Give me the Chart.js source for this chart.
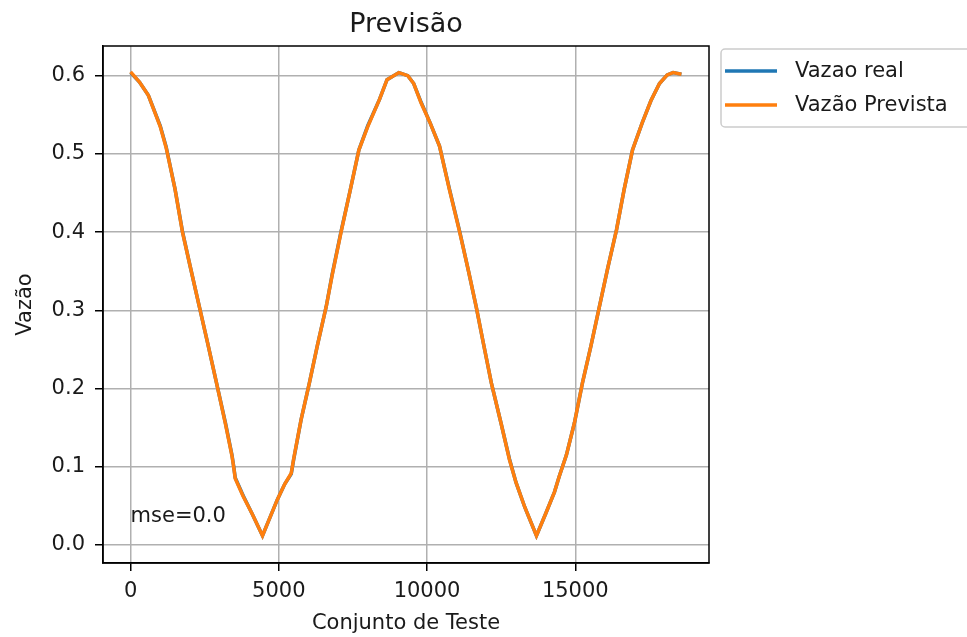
<!DOCTYPE html>
<html>
<head>
<meta charset="utf-8">
<script src="https://cdn.jsdelivr.net/npm/chart.js@4/dist/chart.umd.min.js"></script>
<style>
  body { margin: 0; background: #fff; }
  #wrap { width: 967px; height: 637px; }
</style>
</head>
<body>
<div id="wrap"><canvas id="chart" width="967" height="637"></canvas></div>
<script>
// sample index (Conjunto de Teste)
const xValues = [0, 300, 600, 1000, 1200, 1500, 1750, 2000, 2300, 2600, 2900, 3200, 3420, 3480, 3530,
  3800, 4100, 4450, 4700, 4950, 5200, 5420, 5500, 5750, 6030, 6300, 6600, 6800, 7100, 7400, 7700,
  8000, 8400, 8650, 9050, 9350, 9550, 9800, 10100, 10420, 10750, 11100, 11400, 11660, 11900, 12170,
  12500, 12780, 13000, 13300, 13690, 14000, 14300, 14460, 14700, 14970, 15240, 15530, 15810, 16100,
  16390, 16650, 16930, 17260, 17550, 17840, 18100, 18300, 18580];

// Vazao real
const realValues = [0.604, 0.592, 0.575, 0.536, 0.509, 0.455, 0.401, 0.358, 0.308, 0.258, 0.207, 0.156, 0.115, 0.100, 0.086,
  0.063, 0.040, 0.012, 0.035, 0.058, 0.078, 0.091, 0.109, 0.160, 0.207, 0.255, 0.305, 0.346, 0.401, 0.452, 0.505,
  0.536, 0.570, 0.595, 0.604, 0.600, 0.590, 0.566, 0.540, 0.510, 0.456, 0.401, 0.350, 0.304, 0.258, 0.207,
  0.155, 0.110, 0.080, 0.048, 0.012, 0.040, 0.068, 0.088, 0.115, 0.156, 0.207, 0.255, 0.304, 0.355,
  0.403, 0.455, 0.505, 0.540, 0.568, 0.590, 0.601, 0.604, 0.602];

// Vazão Prevista
const predictedValues = [0.605, 0.592, 0.575, 0.535, 0.508, 0.455, 0.400, 0.358, 0.308, 0.258, 0.207, 0.155, 0.114, 0.099, 0.085,
  0.062, 0.040, 0.012, 0.035, 0.058, 0.078, 0.092, 0.110, 0.160, 0.207, 0.255, 0.305, 0.345, 0.400, 0.452, 0.505,
  0.535, 0.570, 0.595, 0.604, 0.600, 0.590, 0.565, 0.540, 0.510, 0.455, 0.400, 0.350, 0.304, 0.258, 0.207,
  0.155, 0.109, 0.080, 0.048, 0.012, 0.040, 0.068, 0.088, 0.115, 0.156, 0.207, 0.255, 0.304, 0.355,
  0.403, 0.455, 0.505, 0.540, 0.568, 0.590, 0.601, 0.604, 0.602];

const xTickValues = [0, 5000, 10000, 15000];
const yTickValues = [0, 0.1, 0.2, 0.3, 0.4, 0.5, 0.6];
const seriesNames = ['Vazao real', 'Vazão Prevista'];
const seriesColors = ['#1f77b4', '#ff7f0e'];
const mseLabel = 'mse=0.0';
const msePos = [0, 0.03];

const FONT = '"DejaVu Sans", "Liberation Sans", sans-serif';

function toPoints(ys) {
  return xValues.map((x, i) => ({ x: x, y: ys[i] }));
}

// frame, title, mse text and the outside legend
const extras = {
  id: 'extras',
  afterDraw(chart) {
    const { ctx, chartArea: a, scales } = chart;
    ctx.save();
    ctx.strokeStyle = '#000';
    ctx.lineWidth = 1.5;
    ctx.strokeRect(a.left, a.top, a.right - a.left, a.bottom - a.top);

    ctx.fillStyle = '#1a1a1a';
    ctx.font = '21px ' + FONT;
    ctx.textAlign = 'left';
    ctx.textBaseline = 'alphabetic';
    ctx.fillText(mseLabel, scales.x.getPixelForValue(msePos[0]), scales.y.getPixelForValue(msePos[1]));

    ctx.font = '27px ' + FONT;
    ctx.textAlign = 'center';
    ctx.textBaseline = 'middle';
    ctx.fillText('Previsão', (a.left + a.right) / 2, 25);

    // legend box
    const lx = 721, ly = 49;
    ctx.beginPath();
    ctx.roundRect(lx, ly, 300, 78, 4);
    ctx.fillStyle = 'rgba(255,255,255,0.8)';
    ctx.fill();
    ctx.strokeStyle = '#cccccc';
    ctx.lineWidth = 1.5;
    ctx.stroke();
    ctx.font = '21px ' + FONT;
    ctx.textAlign = 'left';
    seriesNames.forEach((name, i) => {
      const y = 71 + i * 34;
      ctx.strokeStyle = seriesColors[i];
      ctx.lineWidth = 3.5;
      ctx.beginPath();
      ctx.moveTo(725, y);
      ctx.lineTo(777, y);
      ctx.stroke();
      ctx.fillStyle = '#1a1a1a';
      ctx.fillText(name, 795, y + 1);
    });
    ctx.restore();
  }
};

const ctx = document.getElementById('chart').getContext('2d');
new Chart(ctx, {
  type: 'line',
  data: {
    datasets: [
      {
        label: seriesNames[0],
        data: toPoints(realValues),
        borderColor: seriesColors[0],
        borderWidth: 3.5,
        pointRadius: 0,
        tension: 0,
        order: 1
      },
      {
        label: seriesNames[1],
        data: toPoints(predictedValues),
        borderColor: seriesColors[1],
        borderWidth: 3.5,
        pointRadius: 0,
        tension: 0,
        order: 0
      }
    ]
  },
  options: {
    responsive: false,
    animation: false,
    layout: { padding: { left: 0, top: 46, right: 258, bottom: 0 } },
    plugins: {
      legend: { display: false },
      tooltip: { enabled: false }
    },
    scales: {
      x: {
        type: 'linear',
        min: -930,
        max: 19510,
        afterFit: s => { s.height = 74; },
        afterBuildTicks: s => { s.ticks = xTickValues.map(v => ({ value: v })); },
        grid: { color: '#b0b0b0', lineWidth: 1.5, tickLength: 8, tickColor: '#000', tickWidth: 1.5 },
        border: { color: '#000', width: 1.5 },
        ticks: { color: '#1a1a1a', font: { family: FONT, size: 21 }, padding: 8, maxRotation: 0,
          callback: v => String(v) },
        title: { display: true, text: 'Conjunto de Teste', color: '#1a1a1a',
          font: { family: FONT, size: 21 }, padding: { top: 0, bottom: 1 } }
      },
      y: {
        min: -0.023,
        max: 0.638,
        afterFit: s => { s.width = 103; },
        afterBuildTicks: s => { s.ticks = yTickValues.map(v => ({ value: v })); },
        grid: { color: '#b0b0b0', lineWidth: 1.5, tickLength: 8, tickColor: '#000', tickWidth: 1.5 },
        border: { color: '#000', width: 1.5 },
        ticks: { color: '#1a1a1a', font: { family: FONT, size: 21 }, padding: 10,
          callback: v => v.toFixed(1) },
        title: { display: true, text: 'Vazão', color: '#1a1a1a',
          font: { family: FONT, size: 21 }, padding: { top: 13, bottom: 0 } }
      }
    }
  },
  plugins: [extras]
});
</script>
</body>
</html>
